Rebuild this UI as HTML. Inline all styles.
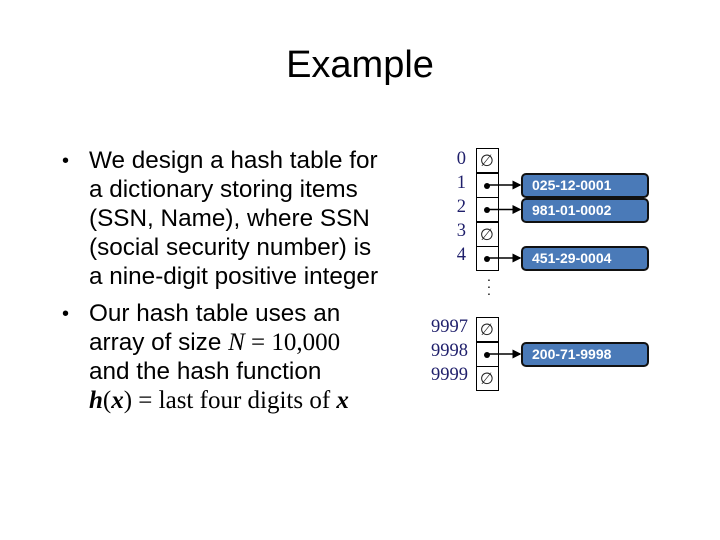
<!DOCTYPE html>
<html><head><meta charset="utf-8"><style>
body{margin:0;width:720px;height:540px;background:#fff;position:relative;overflow:hidden;font-family:"Liberation Sans",sans-serif;}
.t{position:absolute;white-space:nowrap;color:#000;}
.l{position:absolute;left:89px;font-size:24.3px;line-height:26px;white-space:nowrap;}
.b{position:absolute;left:62px;font-size:20px;line-height:26px;}
.m{font-family:"Liberation Serif",serif;font-size:25px;}
.n{position:absolute;width:50px;text-align:right;font-family:"Liberation Serif",serif;font-size:18.5px;color:#1f1f6b;line-height:20px;}
.c{position:absolute;left:476px;width:21px;height:23px;border:1.5px solid #000;background:#fff;}
.e{position:absolute;left:3px;top:0;font-size:16px;line-height:23px;font-family:"DejaVu Sans",sans-serif;color:#222;}
.d{position:absolute;left:7px;top:9px;width:6px;height:6px;border-radius:50%;background:#000;}
.k{position:absolute;left:521px;width:115px;height:21px;background:#4a7ab8;border:2px solid #111;border-radius:5px;color:#fff;font-weight:bold;font-size:14px;line-height:21px;padding-left:9px;box-sizing:content-box;}
</style></head><body>
<div class="t" style="left:0;width:720px;text-align:center;top:44px;font-size:38px;">Example</div>
<div class="b" style="top:148px">•</div>
<div class="l" style="top:148px">We design a hash table for</div>
<div class="l" style="top:177px">a dictionary storing items</div>
<div class="l" style="top:206px">(SSN, Name), where SSN</div>
<div class="l" style="top:235px">(social security number) is</div>
<div class="l" style="top:264px">a nine-digit positive integer</div>
<div class="b" style="top:301px">•</div>
<div class="l" style="top:301px">Our hash table uses an</div>
<div class="l" style="top:330px">array of size <span class="m"><i>N</i> = 10,000</span></div>
<div class="l" style="top:359px">and the hash function</div>
<div class="l" style="top:388px"><span class="m"><b><i>h</i></b>(<b><i>x</i></b>) = last four digits of <b><i>x</i></b></span></div>

<div class="n" style="left:416px;top:149px">0</div>
<div class="n" style="left:416px;top:173px">1</div>
<div class="n" style="left:416px;top:197px">2</div>
<div class="n" style="left:416px;top:221px">3</div>
<div class="n" style="left:416px;top:245px">4</div>
<div class="n" style="left:418px;top:317px">9997</div>
<div class="n" style="left:418px;top:341px">9998</div>
<div class="n" style="left:418px;top:365px">9999</div>

<div class="c" style="top:148px"><span class="e">∅</span></div>
<div class="c" style="top:172.5px"><span class="d"></span></div>
<div class="c" style="top:197px"><span class="d"></span></div>
<div class="c" style="top:221.5px"><span class="e">∅</span></div>
<div class="c" style="top:246px"><span class="d"></span></div>
<div class="c" style="top:317px"><span class="e">∅</span></div>
<div class="c" style="top:341.5px"><span class="d"></span></div>
<div class="c" style="top:366px"><span class="e">∅</span></div>
<div class="t" style="left:486px;top:276px;font-size:14px;line-height:7px;width:6px;text-align:center;">·<br>·<br>·</div>

<svg style="position:absolute;left:0;top:0" width="720" height="540">
<defs><marker id="a" markerWidth="6" markerHeight="6" refX="5" refY="3" orient="auto"><path d="M0,0L6,3L0,6z" fill="#000"/></marker></defs>
<g stroke="#000" stroke-width="1.5" marker-end="url(#a)">
<line x1="488" y1="185" x2="520" y2="185"/>
<line x1="488" y1="209.5" x2="520" y2="209.5"/>
<line x1="488" y1="258" x2="520" y2="258"/>
<line x1="488" y1="354" x2="520" y2="354"/>
</g></svg>

<div class="k" style="top:173px">025-12-0001</div>
<div class="k" style="top:198px">981-01-0002</div>
<div class="k" style="top:246px">451-29-0004</div>
<div class="k" style="top:342px">200-71-9998</div>
</body></html>
